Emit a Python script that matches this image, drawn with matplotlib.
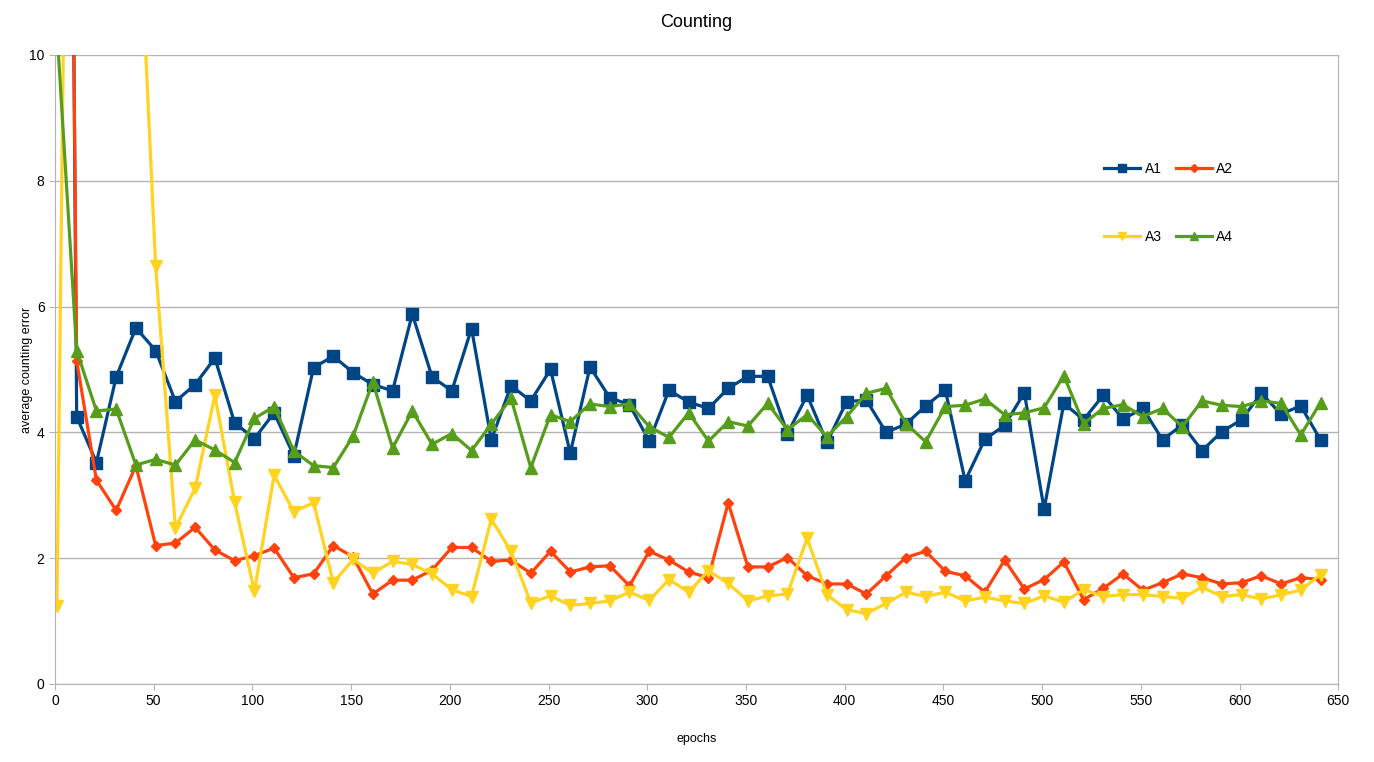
import numpy as np
import matplotlib
matplotlib.use("Agg")
import matplotlib.pyplot as plt

plt.rcParams['font.family'] = ['Liberation Sans', 'DejaVu Sans']

# epochs 1, 11, 21, ... 641
epochs = np.arange(1, 642, 10)

a1 = [45, 4.25, 3.52, 4.88, 5.66, 5.30, 4.49, 4.76, 5.18, 4.15,
      3.90, 4.31, 3.63, 5.03, 5.21, 4.95, 4.76, 4.66, 5.88, 4.88,
      4.66, 5.65, 3.88, 4.74, 4.50, 5.00, 3.67, 5.04, 4.55, 4.44,
      3.86, 4.67, 4.48, 4.38, 4.70, 4.89, 4.89, 3.98, 4.59, 3.84,
      4.49, 4.51, 4.00, 4.13, 4.42, 4.67, 3.23, 3.89, 4.11, 4.63,
      2.78, 4.46, 4.20, 4.59, 4.21, 4.38, 3.88, 4.12, 3.71, 4.01,
      4.20, 4.62, 4.29, 4.42, 3.88]
a2 = [40, 5.14, 3.24, 2.76, 3.47, 2.20, 2.24, 2.49, 2.13, 1.96,
      2.04, 2.16, 1.69, 1.75, 2.20, 2.02, 1.43, 1.65, 1.65, 1.81,
      2.17, 2.17, 1.95, 1.97, 1.76, 2.11, 1.78, 1.86, 1.88, 1.56,
      2.11, 1.97, 1.78, 1.69, 2.88, 1.86, 1.86, 2.01, 1.72, 1.59,
      1.59, 1.43, 1.72, 2.01, 2.11, 1.79, 1.72, 1.46, 1.97, 1.51,
      1.66, 1.94, 1.34, 1.52, 1.75, 1.49, 1.61, 1.75, 1.69, 1.59,
      1.61, 1.72, 1.59, 1.69, 1.66]
a3 = [1.24, 28.6, 20.0, 16.0, 13.4, 6.64, 2.48, 3.11, 4.59, 2.89,
      1.47, 3.32, 2.74, 2.88, 1.61, 1.98, 1.76, 1.95, 1.90, 1.75,
      1.50, 1.39, 2.62, 2.11, 1.29, 1.40, 1.25, 1.28, 1.32, 1.46,
      1.33, 1.66, 1.46, 1.80, 1.60, 1.32, 1.40, 1.43, 2.32, 1.42,
      1.18, 1.12, 1.28, 1.46, 1.39, 1.46, 1.32, 1.38, 1.32, 1.28,
      1.40, 1.30, 1.50, 1.39, 1.42, 1.42, 1.39, 1.36, 1.54, 1.39,
      1.42, 1.35, 1.42, 1.49, 1.74]
a4 = [10.4, 5.30, 4.34, 4.37, 3.48, 3.57, 3.48, 3.88, 3.72, 3.52,
      4.22, 4.41, 3.70, 3.47, 3.44, 3.94, 4.80, 3.75, 4.34, 3.81,
      3.98, 3.71, 4.13, 4.54, 3.44, 4.28, 4.17, 4.45, 4.41, 4.45,
      4.09, 3.92, 4.31, 3.86, 4.17, 4.10, 4.46, 4.04, 4.28, 3.93,
      4.25, 4.62, 4.70, 4.14, 3.85, 4.41, 4.43, 4.53, 4.28, 4.31,
      4.39, 4.90, 4.14, 4.38, 4.44, 4.25, 4.38, 4.09, 4.50, 4.43,
      4.41, 4.50, 4.46, 3.96, 4.47]

fig = plt.figure(figsize=(13.74, 7.62), dpi=100)
ax = fig.add_axes([0.040, 0.1024, 0.934, 0.8256])

l1, = ax.plot(epochs, a1, color='#004586', lw=2.3, marker='s', ms=8, label='A1')
l2, = ax.plot(epochs, a2, color='#ff420e', lw=2.3, marker='D', ms=5.5, label='A2')
l3, = ax.plot(epochs, a3, color='#ffd320', lw=2.3, marker='v', ms=8.5, label='A3')
l4, = ax.plot(epochs, a4, color='#579d1c', lw=2.3, marker='^', ms=8.5, label='A4')

ax.set_xlim(0, 650)
ax.set_ylim(0, 10)
ax.set_xticks(np.arange(0, 651, 50))
ax.set_yticks(np.arange(0, 11, 2))
ax.grid(axis='y', color='#b3b3b3', lw=1)
ax.set_axisbelow(True)
for s in ax.spines.values():
    s.set_color('#b3b3b3')
ax.spines['top'].set_visible(False)
ax.tick_params(colors='#b3b3b3', labelcolor='black', labelsize=10, length=4)

ax.set_title('Counting', fontsize=13, pad=20)
ax.set_xlabel('epochs', fontsize=9, labelpad=18)
ax.set_ylabel('average counting error', fontsize=9, labelpad=-3)

ax.legend(handles=[l1, l3, l2, l4], ncol=2, frameon=False, fontsize=10,
          loc='upper left', bbox_to_anchor=(0.808, 0.85), labelspacing=3.9,
          handlelength=2.6, columnspacing=1.0, handletextpad=0.3,
          markerscale=0.7)

fig.savefig('out.png', dpi=100)
